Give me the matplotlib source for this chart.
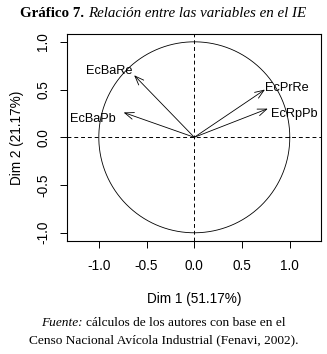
import matplotlib
matplotlib.use("Agg")
import matplotlib.pyplot as plt
import numpy as np

# variable coordinates on the first two dimensions
variables = ["EcBaRe", "EcBaPb", "EcPrRe", "EcRpPb"]
dim1 = [-0.63, -0.74, 0.74, 0.77]
dim2 = [0.65, 0.26, 0.50, 0.30]

xlabel = "Dim 1 (51.17%)"
ylabel = "Dim 2 (21.17%)"
ticks = [-1.0, -0.5, 0.0, 0.5, 1.0]

plt.rcParams["font.family"] = ["Liberation Sans", "DejaVu Sans"]

fig = plt.figure(figsize=(3.27, 3.54), dpi=100)
ax = fig.add_axes([0.2049, 0.320, 0.7768, 0.584])

# circle of correlations
t = np.linspace(0, 2 * np.pi, 400)
ax.plot(np.cos(t), np.sin(t), color="black", lw=0.6)
ax.axhline(0, color="black", lw=0.7, ls=(0, (4, 3)))
ax.axvline(0, color="black", lw=0.7, ls=(0, (4, 3)))

# label offsets in points (dx, dy, ha)
offsets = {
    "EcBaRe": (-1, 3, "right"),
    "EcBaPb": (-6, -5, "right"),
    "EcPrRe": (0, 1, "left"),
    "EcRpPb": (2, -4, "left"),
}

for name, x, y in zip(variables, dim1, dim2):
    ax.annotate("", xy=(x, y), xytext=(0, 0),
                arrowprops=dict(arrowstyle="->,head_length=0.65,head_width=0.25",
                                color="black", lw=0.6, shrinkA=0, shrinkB=0))
    dx, dy, ha = offsets[name]
    ax.annotate(name, xy=(x, y), xytext=(dx, dy), textcoords="offset points",
                ha=ha, va="center", fontsize=9.2)

ax.set_xlim(-1.333, 1.327)
ax.set_ylim(-1.083, 1.082)
ax.set_xticks(ticks)
ax.set_yticks(ticks)
ax.set_xticklabels([f"{v:.1f}" for v in ticks], fontsize=9.8)
ax.set_yticklabels([f"{v:.1f}" for v in ticks], fontsize=9.8, rotation=90, va="center")
ax.tick_params(direction="out", length=5, width=0.7, pad=8)
ax.tick_params(axis="y", pad=7)
for s in ax.spines.values():
    s.set_linewidth(0.8)

ax.set_xlabel(xlabel, fontsize=9.8, labelpad=14)
ax.set_ylabel(ylabel, fontsize=9.8, labelpad=9)


def chain(parts, x0, y, center=False):
    # draw pieces of text one after the other on the same line
    r = fig.canvas.get_renderer()
    texts = []
    x = x0
    for s, kw in parts:
        tx = fig.text(x, y, s, va="center", ha="left", **kw)
        bb = tx.get_window_extent(renderer=r)
        x = x + bb.width / fig.bbox.width
        texts.append(tx)
    if center:
        shift = (1 - (x - x0)) / 2 - x0
        for tx in texts:
            tx.set_x(tx.get_position()[0] + shift)


serif = dict(family="Liberation Serif")
chain([("Gráfico 7. ", dict(fontweight="bold", fontsize=10.8, **serif)),
       ("Relación entre las variables en el IE", dict(style="italic", fontsize=10.8, **serif))],
      0.062, 0.963)
chain([("Fuente: ", dict(style="italic", fontsize=9.6, **serif)),
       ("cálculos de los autores con base en el", dict(fontsize=9.6, **serif))],
      0.0, 0.088, center=True)
fig.text(0.5, 0.040, "Censo Nacional Avícola Industrial (Fenavi, 2002).",
         family="Liberation Serif", fontsize=9.6, va="center", ha="center")

fig.savefig("out.png", dpi=100)
